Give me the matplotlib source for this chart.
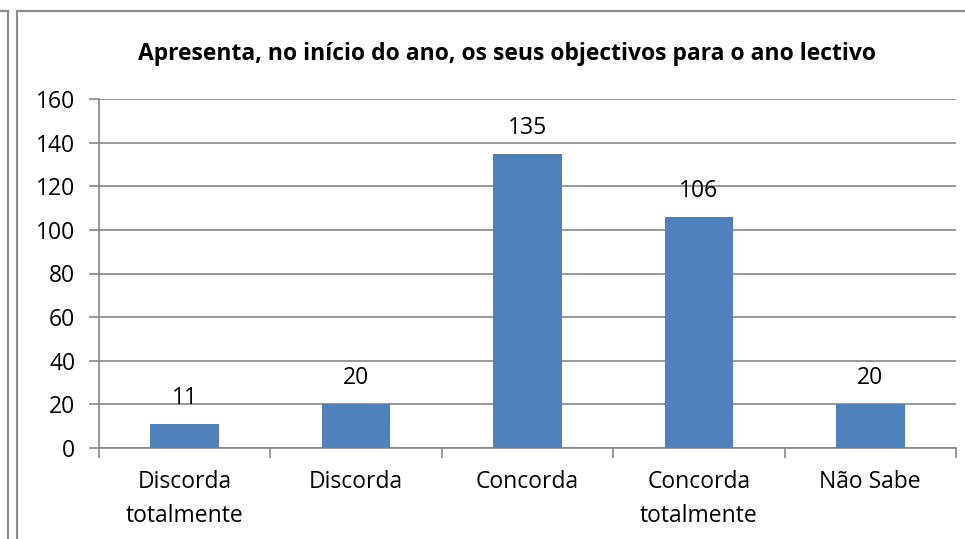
import matplotlib.pyplot as plt
from matplotlib.patches import Rectangle
from matplotlib.lines import Line2D

categorias = ['Discorda\ntotalmente', 'Discorda', 'Concorda', 'Concorda\ntotalmente', 'Não Sabe']
valores = [11, 20, 135, 106, 20]
titulo = 'Apresenta, no início do ano, os seus objectivos para o ano lectivo'

plt.rcParams['font.family'] = ['Open Sans', 'DejaVu Sans']
cinza = '#868686'
fs = 16.5

fig = plt.figure(figsize=(9.65, 5.39), dpi=100)

# moldura do gráfico (e restos da moldura do gráfico anterior à esquerda)
fig.add_artist(Rectangle((17 / 965, -0.05), 1.0, (539 - 11) / 539 + 0.05,
                         transform=fig.transFigure, fill=False,
                         edgecolor='#8c8c8c', linewidth=1.6))
fig.add_artist(Line2D([0, 8 / 965], [1 - 11 / 539] * 2, transform=fig.transFigure,
                      color='#8c8c8c', linewidth=1.6))
fig.add_artist(Line2D([8 / 965] * 2, [0, 1 - 11 / 539], transform=fig.transFigure,
                      color='#8c8c8c', linewidth=1.6))

ax = fig.add_axes([99 / 965, 1 - 448 / 539, (956 - 99) / 965, (448 - 99) / 539])
x = range(len(categorias))
barras = ax.bar(x, valores, width=0.4, color='#4f81bd', zorder=3)

ax.set_xlim(-0.5, len(categorias) - 0.5)
ax.set_ylim(0, 160)
ax.set_yticks(range(0, 161, 20))
ax.yaxis.grid(True, color=cinza, linewidth=1.2, zorder=0)

for s in ['top', 'right']:
    ax.spines[s].set_visible(False)
for s in ['left', 'bottom']:
    ax.spines[s].set_color(cinza)
    ax.spines[s].set_linewidth(1.2)

ax.set_xticks([i - 0.5 for i in range(len(categorias) + 1)])
ax.set_xticklabels([])
ax.set_xticks(list(x), minor=True)
ax.set_xticklabels(categorias, minor=True, fontsize=fs, linespacing=1.55)
ax.tick_params(axis='x', which='major', length=7, color=cinza, width=1.2)
ax.tick_params(axis='x', which='minor', length=0, pad=16)
ax.tick_params(axis='y', length=7, color=cinza, width=1.2, labelsize=fs, pad=10)

for b, v in zip(barras, valores):
    ax.annotate(str(v), (b.get_x() + b.get_width() / 2, v), xytext=(0, 10),
                textcoords='offset points', ha='center', va='bottom', fontsize=fs)

fig.text(507 / 965, 1 - 54 / 539, titulo, ha='center', va='center',
         fontsize=16.5, fontweight='bold')

fig.savefig('out.png', dpi=100)
